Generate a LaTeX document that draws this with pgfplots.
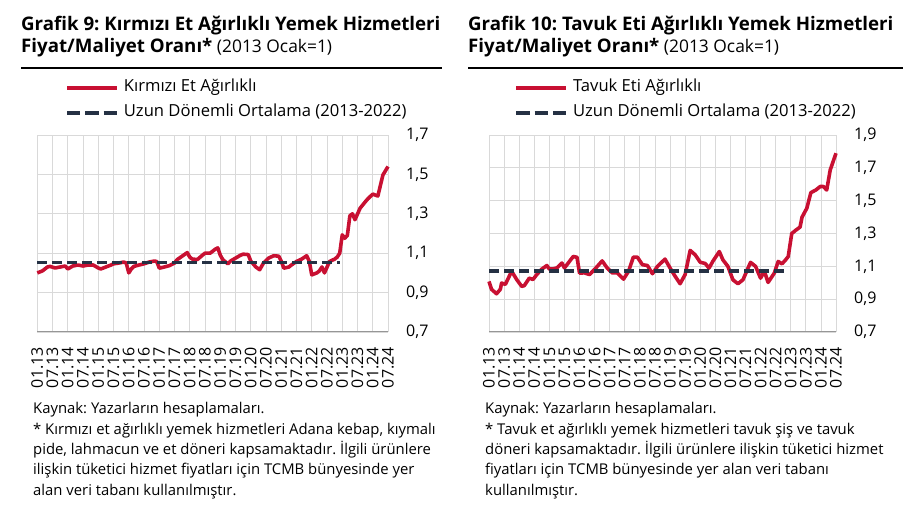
\documentclass[border=0pt]{standalone}
\usepackage{pgfplots}
\pgfplotsset{compat=1.18}
\usepackage{fontspec}
\setmainfont{Open Sans}
\frenchspacing
\definecolor{cred}{RGB}{200,16,50}
\definecolor{cnavy}{RGB}{37,49,68}
\definecolor{cgrid}{RGB}{217,217,217}
\definecolor{caxis}{RGB}{150,150,150}

\pgfplotstableread{
m v
0 1.00
2 1.01
4 1.03
5 1.033
7 1.025
9 1.03
11 1.035
12 1.02
14 1.035
16 1.04
18 1.035
20 1.04
22 1.04
24 1.025
25 1.02
27 1.03
29 1.04
30 1.046
32 1.05
34 1.055
35 1.05
36 1.00
37 1.02
38 1.033
40 1.04
42 1.046
44 1.055
46 1.06
47 1.058
48 1.024
50 1.03
52 1.037
54 1.05
55 1.067
57 1.085
59 1.103
60 1.08
61 1.07
63 1.068
65 1.09
66 1.10
68 1.10
70 1.12
71 1.127
72 1.09
73 1.067
75 1.046
76 1.06
78 1.075
80 1.09
81 1.095
83 1.093
84 1.06
86 1.03
87.5 1.016
89 1.05
91 1.075
93 1.087
95 1.085
96 1.06
97 1.024
99 1.03
100 1.04
102 1.058
104 1.07
106 1.087
107 1.06
108 0.99
110 1.00
111 1.01
112 1.03
113 1.00
115 1.058
117 1.07
118 1.08
119 1.10
120 1.193
121 1.176
122 1.19
123 1.29
124 1.30
125 1.27
127 1.328
129 1.36
130 1.375
132 1.40
134 1.39
136 1.497
138 1.54
}\redmeat

\pgfplotstableread{
m v
0 1.008
1 0.96
3 0.933
4.5 0.96
5 0.998
6.5 0.99
9 1.07
11 1.02
13 0.978
14 0.982
16 1.028
17.5 1.02
19 1.05
21 1.083
23 1.105
24 1.083
25.5 1.085
27 1.09
29 1.12
30 1.09
32 1.13
33.5 1.16
35 1.155
36 1.059
38 1.06
40 1.05
42.5 1.09
45 1.133
47 1.09
49 1.06
51 1.06
53.5 1.022
55.5 1.07
57.4 1.156
59 1.156
61 1.11
63 1.105
65 1.055
67 1.10
70 1.144
72 1.09
74 1.04
76 0.994
78 1.05
80 1.197
82 1.17
84 1.125
86 1.117
87.5 1.089
89 1.13
91.6 1.19
93 1.14
95 1.10
97 1.018
99 0.994
101 1.018
104 1.124
106 1.10
108 1.028
109.5 1.07
111 1.002
113.5 1.06
115 1.13
116.5 1.115
118 1.14
119 1.16
120.4 1.30
122 1.32
123.7 1.339
124.5 1.40
126.4 1.454
128 1.549
130 1.565
131.7 1.586
133 1.586
134.3 1.565
135.7 1.687
138 1.789
}\chicken

\pgfplotsset{panel/.style={
  scale only axis, height=197bp,
  xmin=0, xmax=138, clip=false,
  xtick={0,6,...,138},
  xticklabels={01.13,07.13,01.14,07.14,01.15,07.15,01.16,07.16,01.17,07.17,01.18,07.18,01.19,07.19,01.20,07.20,01.21,07.21,01.22,07.22,01.23,07.23,01.24,07.24},
  axis x line*=bottom, axis y line*=right,
  x axis line style={caxis, line width=1bp},
  y axis line style={draw=none},
  major tick length=0pt,
  grid=major, major grid style={cgrid, line width=0.8bp},
  x tick label style={rotate=90, anchor=east, inner sep=0pt, font=\fontsize{16bp}{16bp}\selectfont},
  xticklabel shift=15bp,
  y tick label style={anchor=west, inner sep=0pt, font=\fontsize{16bp}{16bp}\selectfont},
  yticklabel shift=18bp,
  legend cell align=left,
  legend image code/.code={\draw[##1] (0bp,0bp) -- (50bp,0bp);},
  legend style={draw=none, fill=none, inner sep=0pt, outer sep=0pt,
    at={(axis description cs:0,1)}, anchor=north west,
    font=\fontsize{16.6bp}{16.6bp}\selectfont,
    nodes={inner sep=0pt, text height=12bp, text depth=4bp},
    cells={anchor=west}, row sep=9bp,
    /tikz/every odd column/.style={column sep=5bp}},
}}
\pgfplotsset{avgline/.style={cnavy, line width=3.6bp, dash pattern=on 10bp off 5bp,
  legend image code/.code={\draw[cnavy, line width=3.6bp, dash pattern=on 13.3bp off 5bp] (0bp,0bp) -- (50bp,0bp);}}}

\begin{document}
\begin{tikzpicture}
\path[use as bounding box] (0bp,0bp) rectangle (923bp,530bp);

% titles
\node[anchor=base west, inner sep=0, font=\fontsize{18.7bp}{22bp}\selectfont\bfseries] at (21bp,499bp) {Grafik 9: Kırmızı Et Ağırlıklı Yemek Hizmetleri};
\node[anchor=base west, inner sep=0, font=\fontsize{17.4bp}{22bp}\selectfont] at (21bp,477bp) {{\fontsize{18.7bp}{22bp}\selectfont\bfseries Fiyat/Maliyet Oranı*} (2013 Ocak=1)};
\node[anchor=base west, inner sep=0, font=\fontsize{18.7bp}{22bp}\selectfont\bfseries] at (468bp,499bp) {Grafik 10: Tavuk Eti Ağırlıklı Yemek Hizmetleri};
\node[anchor=base west, inner sep=0, font=\fontsize{17.4bp}{22bp}\selectfont] at (468bp,477bp) {{\fontsize{18.7bp}{22bp}\selectfont\bfseries Fiyat/Maliyet Oranı*} (2013 Ocak=1)};
\draw[black, line width=1.2bp] (21bp,462bp) -- (442bp,462bp);
\draw[black, line width=1.2bp] (468bp,462bp) -- (903bp,462bp);

\begin{axis}[panel, at={(37.3bp,198bp)}, anchor=south west, width=350.7bp,
  ymin=0.7, ymax=1.7, ytick={0.7,0.9,1.1,1.3,1.5,1.7},
  yticklabels={{0,7},{0,9},{1,1},{1,3},{1,5},{1,7}},
  legend style={xshift=28bp, yshift=55bp}]
\addplot[cred, line width=3.6bp, line join=round] table[x=m,y=v] {\redmeat};
\addlegendentry{Kırmızı Et Ağırlıklı}
\addplot[avgline] coordinates {(0,1.053) (119,1.053)};
\addlegendentry{Uzun Dönemli Ortalama (2013-2022)}
\end{axis}

\begin{axis}[panel, at={(489bp,198bp)}, anchor=south west, width=347bp,
  ymin=0.7, ymax=1.9, ytick={0.7,0.9,1.1,1.3,1.5,1.7,1.9},
  yticklabels={{0,7},{0,9},{1,1},{1,3},{1,5},{1,7},{1,9}},
  legend style={xshift=25.5bp, yshift=55bp}]
\addplot[cred, line width=3.6bp, line join=round] table[x=m,y=v] {\chicken};
\addlegendentry{Tavuk Eti Ağırlıklı}
\addplot[avgline] coordinates {(0,1.073) (118,1.073)};
\addlegendentry{Uzun Dönemli Ortalama (2013-2022)}
\end{axis}

% footnotes (anchor = baseline of last line)
\node[anchor=base west, inner sep=0, align=left, font=\fontsize{14.85bp}{20.3bp}\selectfont] at (33bp,35bp) {Kaynak: Yazarların hesaplamaları.\\
* Kırmızı et ağırlıklı yemek hizmetleri Adana kebap, kıymalı\\
pide, lahmacun ve et döneri kapsamaktadır. İlgili ürünlere\\
ilişkin tüketici hizmet fiyatları için TCMB bünyesinde yer\\
alan veri tabanı kullanılmıştır.};
\node[anchor=base west, inner sep=0, align=left, font=\fontsize{14.85bp}{20.3bp}\selectfont] at (485bp,35bp) {Kaynak: Yazarların hesaplamaları.\\
* Tavuk et ağırlıklı yemek hizmetleri tavuk şiş ve tavuk\\
döneri kapsamaktadır. İlgili ürünlere ilişkin tüketici hizmet\\
fiyatları için TCMB bünyesinde yer alan veri tabanı\\
kullanılmıştır.};
\end{tikzpicture}
\end{document}
